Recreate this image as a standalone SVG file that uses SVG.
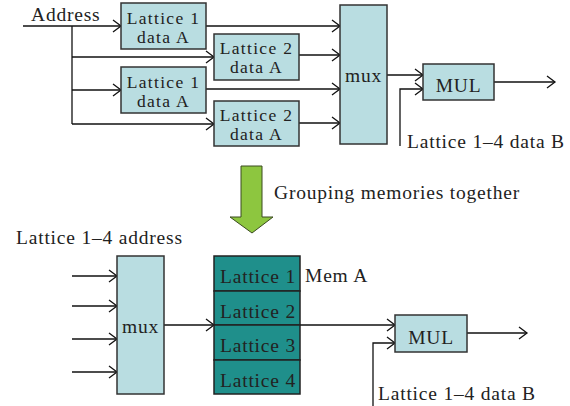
<svg xmlns="http://www.w3.org/2000/svg" width="570" height="406" viewBox="0 0 570 406">
<style>
.box{fill:#b9dde1;stroke:#333;stroke-width:1.5}
.mem{fill:#1f8f8b;stroke:#222;stroke-width:1.5}
.t{font-family:"Liberation Serif",serif;font-size:19.5px;fill:#222;letter-spacing:0.8px}
.s{font-size:17.5px;letter-spacing:1.3px}
.c{text-anchor:middle}
.w{fill:none;stroke:#111;stroke-width:1.3}
</style>
<defs>
<marker id="a" markerUnits="userSpaceOnUse" markerWidth="12" markerHeight="14" refX="9" refY="7" orient="auto">
<path d="M1,1 L9,7 L1,13" fill="none" stroke="#111" stroke-width="1.3"/>
</marker>
</defs>
<rect width="570" height="406" fill="#fff"/>
<g id="connectors" class="w">
<path d="M23,26 H121" marker-end="url(#a)"/>
<path d="M72,26 V124"/>
<path d="M72,57 H214" marker-end="url(#a)"/>
<path d="M72,90 H121" marker-end="url(#a)"/>
<path d="M72,124 H214" marker-end="url(#a)"/>
<path d="M206,26 H340" marker-end="url(#a)"/>
<path d="M299,55 H340" marker-end="url(#a)"/>
<path d="M206,89 H340" marker-end="url(#a)"/>
<path d="M299,123 H340" marker-end="url(#a)"/>
<path d="M387,75 H423" marker-end="url(#a)"/>
<path d="M400,146 V89 H423" marker-end="url(#a)"/>
<path d="M494,82 H555" marker-end="url(#a)"/>
<path d="M72,276 H117" marker-end="url(#a)"/>
<path d="M72,306 H117" marker-end="url(#a)"/>
<path d="M72,339 H117" marker-end="url(#a)"/>
<path d="M72,372 H117" marker-end="url(#a)"/>
<path d="M164,325 H214" marker-end="url(#a)"/>
<path d="M300,325 H395" marker-end="url(#a)"/>
<path d="M373,406 V343 H395" marker-end="url(#a)"/>
<path d="M467,333 H527" marker-end="url(#a)"/>
</g>
<text class="t" x="31" y="21">Address</text>
<g id="lat1a"><rect class="box" x="121" y="3" width="85" height="46"/><text class="t s c" x="163.5" y="24">Lattice 1</text><text class="t s c" x="163.5" y="43">data A</text></g>
<g id="lat2a"><rect class="box" x="214" y="34" width="85" height="46"/><text class="t s c" x="256.5" y="54">Lattice 2</text><text class="t s c" x="256.5" y="73">data A</text></g>
<g id="lat1b"><rect class="box" x="121" y="67" width="85" height="46"/><text class="t s c" x="163.5" y="88">Lattice 1</text><text class="t s c" x="163.5" y="107">data A</text></g>
<g id="lat2b"><rect class="box" x="214" y="101" width="85" height="45"/><text class="t s c" x="256.5" y="121">Lattice 2</text><text class="t s c" x="256.5" y="140">data A</text></g>
<g id="mux1"><rect class="box" x="340" y="5" width="47" height="139"/><text class="t c" x="363.5" y="82">mux</text></g>
<g id="mul1"><rect class="box" x="423" y="64" width="71" height="36"/><text class="t c" x="458.5" y="92">MUL</text></g>
<text class="t" x="407" y="148">Lattice 1–4 data B</text>
<g id="group-arrow"><polygon points="241,166 262,166 262,217 273,217 252,233 230,217 241,217" fill="#8dc63f" stroke="#3a4a20" stroke-width="1"/></g>
<text class="t" x="274" y="199">Grouping memories together</text>
<text class="t" x="16" y="244">Lattice 1–4 address</text>
<g id="mux2"><rect class="box" x="117" y="256" width="47" height="138"/><text class="t c" x="140.5" y="333">mux</text></g>
<g id="memA">
<rect class="mem" x="214" y="256" width="86" height="35"/>
<rect class="mem" x="214" y="291" width="86" height="34"/>
<rect class="mem" x="214" y="325" width="86" height="35"/>
<rect class="mem" x="214" y="360" width="86" height="34"/>
<text class="t" x="220" y="283">Lattice 1</text>
<text class="t" x="220" y="318">Lattice 2</text>
<text class="t" x="220" y="352">Lattice 3</text>
<text class="t" x="220" y="387">Lattice 4</text>
</g>
<text class="t" x="305" y="282">Mem A</text>
<g id="mul2"><rect class="box" x="395" y="315" width="72" height="37"/><text class="t c" x="431" y="344">MUL</text></g>
<text class="t" x="378" y="400">Lattice 1–4 data B</text>
</svg>
